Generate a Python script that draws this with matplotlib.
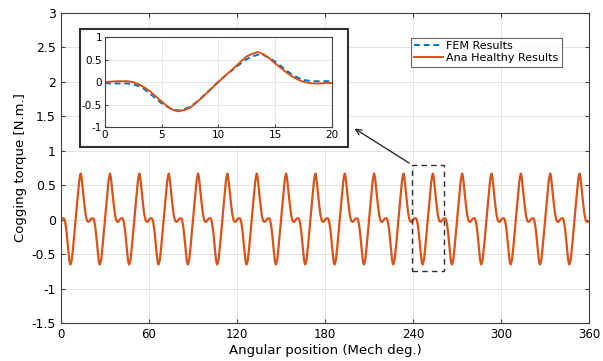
import numpy as np
import matplotlib
matplotlib.use("Agg")
import matplotlib.pyplot as plt
from matplotlib.patches import Rectangle

# one 20 deg period of cogging torque, read every 0.5 deg (0 .. 20)
period_deg = 20
n_periods = 18
step = 0.5
ana_period = [0.00, 0.01, 0.02, 0.02, 0.02, 0.00, -0.05, -0.12, -0.21, -0.32,
              -0.43, -0.54, -0.62, -0.65, -0.62, -0.57, -0.47, -0.36, -0.24, -0.12,
              0.00, 0.12, 0.23, 0.34, 0.46, 0.57, 0.63, 0.67, 0.62, 0.53,
              0.42, 0.32, 0.22, 0.13, 0.06, 0.01, -0.02, -0.03, -0.03, -0.02, -0.02]
fem_period = [-0.02, -0.03, -0.03, -0.03, -0.03, -0.05, -0.09, -0.16, -0.26, -0.37,
              -0.47, -0.55, -0.61, -0.63, -0.60, -0.55, -0.46, -0.35, -0.23, -0.11,
              0.01, 0.12, 0.22, 0.32, 0.42, 0.51, 0.57, 0.61, 0.60, 0.54,
              0.46, 0.36, 0.26, 0.17, 0.10, 0.05, 0.03, 0.02, 0.02, 0.02, 0.02]

x_ticks = [0, 60, 120, 180, 240, 300, 360]
y_ticks = [-1.5, -1, -0.5, 0, 0.5, 1, 1.5, 2, 2.5, 3]
inset_xticks = [0, 5, 10, 15, 20]
inset_yticks = [-1, -0.5, 0, 0.5, 1]

blue = "#0072BD"
orange = "#D95319"

# full 360 deg curve: the measured period repeated
x_per = np.arange(len(ana_period)) * step
ana_full = np.concatenate([ana_period[:-1]] * n_periods + [[ana_period[-1]]])
x_full = np.arange(len(ana_full)) * step

fig = plt.figure(figsize=(6.03, 3.61), dpi=100)
ax = fig.add_axes([0.101, 0.105, 0.876, 0.859])
ax.plot(x_full, ana_full, color=orange, lw=1.6)
ax.set_xlim(0, 360)
ax.set_ylim(-1.5, 3)
ax.set_xticks(x_ticks)
ax.set_yticks(y_ticks)
ax.set_yticklabels(["-1.5", "-1", "-0.5", "0", "0.5", "1", "1.5", "2", "2.5", "3"])
ax.tick_params(direction="in", top=True, right=True, labelsize=9, length=3, color="#404040")
ax.tick_params(axis="x", labelsize=8.5)
ax.grid(True, color="#e3e3e3", lw=0.7)
ax.set_xlabel("Angular position (Mech deg.)", fontsize=9.5, labelpad=2)
ax.set_ylabel("Cogging torque [N.m.]", fontsize=9.5, labelpad=3)
for s in ax.spines.values():
    s.set_color("#404040")

# dashed zoom box
ax.add_patch(Rectangle((239, -0.75), 22, 1.55, fill=False, ls=(0, (4, 3)),
                       lw=1.0, ec="#303030", zorder=5))
ax.annotate("", xy=(0.584, 0.648), xycoords="figure fraction",
            xytext=(239, 0.8), textcoords="data",
            arrowprops=dict(arrowstyle="->", color="#303030", lw=1.0))

# inset frame
fig.patches.append(Rectangle((0.133, 0.593), 0.444, 0.327, transform=fig.transFigure,
                             fc="white", ec="#303030", lw=1.5, zorder=3))

axi = fig.add_axes([0.174, 0.648, 0.376, 0.249], zorder=4)
l1, = axi.plot(x_per, fem_period, color=blue, ls=(0, (3, 2)), lw=1.4, label="FEM Results")
l2, = axi.plot(x_per, ana_period, color=orange, lw=1.4, label="Ana Healthy Results")
axi.set_xlim(0, 20)
axi.set_ylim(-1, 1)
axi.set_xticks(inset_xticks)
axi.set_yticks(inset_yticks)
axi.set_yticklabels(["-1", "-0.5", "0", "0.5", "1"])
axi.tick_params(direction="in", labelsize=7.5, length=2, pad=2, color="#404040")
axi.grid(True, color="#e3e3e3", lw=0.6)
for s in axi.spines.values():
    s.set_color("#404040")

leg = ax.legend(handles=[l1, l2], loc="upper left", bbox_to_anchor=(0.672, 0.911),
                bbox_transform=fig.transFigure, fontsize=8, fancybox=False,
                handlelength=2.6, borderpad=0.3, labelspacing=0.2, handletextpad=0.3)
leg.get_frame().set_edgecolor("#404040")
leg.get_frame().set_linewidth(0.8)

fig.savefig("out.png", dpi=100)
